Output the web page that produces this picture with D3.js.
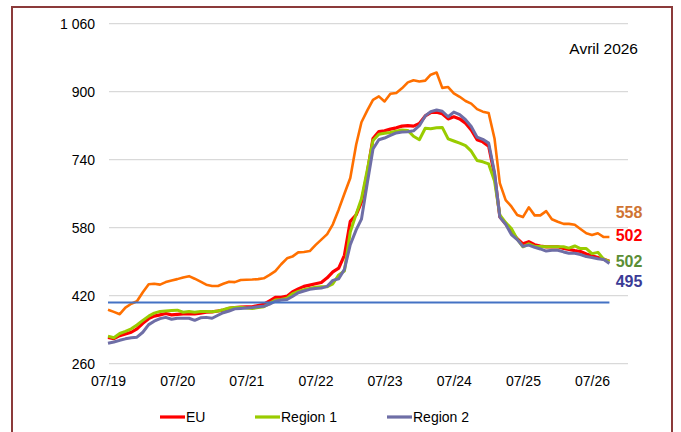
<!DOCTYPE html>
<html><head><meta charset="utf-8">
<script src="https://cdn.jsdelivr.net/npm/d3@7"></script>
<style>
body{margin:0;background:#fff;}
svg{display:block;font-family:"Liberation Sans",Arial,sans-serif;}
</style>
</head><body>
<svg id="chart" width="681" height="432"></svg>
<script>
// ---- data ----
const months = d3.timeMonth.range(new Date(2019, 6, 1), new Date(2026, 10, 1)); // monthly categories
const legendNames = ["EU", "Region 1", "Region 2"];
const euValues = [322,319,326,330,334,342,355,366,372,375,378,375,376,377,377,377,379,381,382,384,386,390,392,393,393.5,394,397,400,408,416,416,419,429,436,442,445,448,451,462,476,485,515,595,610,640,710,790,806,808,812,815,819,820,819,825,843,851,852,848,836,841,836,826,810,787,782,772,705,606,589,570,554,542,547,540,537,535,535,535,531,529,526,524,518,514,510,506,501];
const region1Values = [325,321,331,336,342,351,362,372,379,383,384,385,386,381,383,381,383,383,382,384,387,391,392,393,391,390,392,394,402,410,411,414,424,430,434,437,440,441,441,448,469,478,570,612,648,716,785,800,802,804,807,810,809,795,787,814,813,815,816,789,784,779,773,760,738,735,730,690,610,592,578,553,535,542,536,536,535,535,535,535,532,537,531,531,519,522,506,500];
const region2Values = [308,311,315,318.5,321,322.5,334,352,360,366,369,364.5,367,367,367,362,368,369,367,374,380,384,389,390,391,392,394,395,400,407,410,411,418,427,431,435,437,438,442,456,460,482,540,575,600,685,765,787,791,797,803,805,806,808,820,843,853,857,854,841,852,846,834,818,793,788,779,710,605,588,564,552,536,539,534,530,525,527,527,523,520,520,517,512,510,507,505,496];
const otherValues = [387,382,376.5,392,401,407,428,447,448,446,452,456,459,463,466,460,453,446,443,443,448,453,452,457,457.5,458,459,461,469,478,494,508,512,522,523,525,539,552,565,588,623,660,697,775,828,856,881,889,877,895,897,908,922,927,924,926,940,945,909,911,896,888,878,872,859,853,850,790,685,645,630,610,605,628,609,609,619,600,594,589,589,587,577,567,563,567,558,558];
const thresholdValue = 404;
const yTickValues = [260, 420, 580, 740, 900, 1060];
const xTickDates = d3.timeYear.range(new Date(2019, 0, 1), new Date(2027, 0, 1)).map(d => new Date(d.getFullYear(), 6, 1));
const endLabels = ["558", "502", "502", "495"];
const periodLabel = "Avril 2026";

// ---- layout ----
const svg = d3.select("#chart");
const plotLeft = 109, plotRight = 628;
const x = d3.scaleTime().domain([new Date(2019, 6, 1), new Date(2026, 6, 1)]).range([108, 592]);
const y = d3.scaleLinear().domain([260, 1060]).range([363.7, 23.7]);

// border
svg.append("rect").attr("x", 12).attr("y", 7).attr("width", 660).attr("height", 440)
  .attr("fill", "none").attr("stroke", "#8B3A3A").attr("stroke-width", 2);

// gridlines
svg.append("g").selectAll("line").data(yTickValues).join("line")
  .attr("x1", plotLeft).attr("x2", plotRight)
  .attr("y1", d => y(d)).attr("y2", d => y(d))
  .attr("stroke", "#D9D9D9").attr("stroke-width", 1.3);

// y axis labels
const fmt = v => { const s = String(v); return s.length > 3 ? s.slice(0, s.length - 3) + " " + s.slice(-3) : s; };
const yAxis = d3.axisLeft(y).tickValues(yTickValues).tickFormat(fmt).tickSize(0).tickPadding(0);
const gy = svg.append("g").attr("transform", "translate(95,0)").call(yAxis);
gy.select(".domain").remove();
gy.selectAll("text").attr("font-size", 14).attr("fill", "#000").attr("font-family", "Liberation Sans, Arial, sans-serif");

// x axis labels
const xAxis = d3.axisBottom(x).tickValues(xTickDates).tickFormat(d3.timeFormat("%m/%y")).tickSize(0).tickPadding(0);
const gx = svg.append("g").attr("transform", "translate(0,376)").call(xAxis);
gx.select(".domain").remove();
gx.selectAll("text").attr("font-size", 14).attr("fill", "#000").attr("font-family", "Liberation Sans, Arial, sans-serif");

// lines
const line = d3.line().x((d, i) => x(months[i])).y(d => y(d));
const series = [
  {values: otherValues, color: "#FF7000", width: 2.6},
  {values: euValues, color: "#FF0000", width: 3.2},
  {values: region1Values, color: "#99CC00", width: 3},
  {values: region2Values, color: "#6E6EA6", width: 3}
];
svg.append("g").selectAll("path").data(series).join("path")
  .attr("d", d => line(d.values))
  .attr("fill", "none").attr("stroke", d => d.color).attr("stroke-width", d => d.width)
  .attr("stroke-linejoin", "round");

// threshold line
svg.append("line")
  .attr("x1", x(months[0])).attr("x2", x(months[months.length - 1]))
  .attr("y1", y(thresholdValue)).attr("y2", y(thresholdValue))
  .attr("stroke", "#4472C4").attr("stroke-width", 2);

// end labels
const endLabelStyle = [
  {color: "#CF7433", y: 217.5},
  {color: "#FF0000", y: 241},
  {color: "#5B8E35", y: 266.5},
  {color: "#3B3B96", y: 287}
];
svg.append("g").selectAll("text").data(endLabels).join("text")
  .attr("x", 629).attr("y", (d, i) => endLabelStyle[i].y)
  .attr("text-anchor", "middle").attr("font-size", 16).attr("font-weight", "bold")
  .attr("fill", (d, i) => endLabelStyle[i].color).text(d => d);

// period label
svg.append("text").attr("x", 638).attr("y", 54).attr("text-anchor", "end")
  .attr("font-size", 15.5).attr("fill", "#000").text(periodLabel);

// legend
const legendColors = ["#FF0000", "#99CC00", "#6E6EA6"];
const legendX = [160, 255, 387];
const lg = svg.append("g").selectAll("g").data(legendNames).join("g")
  .attr("transform", (d, i) => `translate(${legendX[i]},417)`);
lg.append("line").attr("x1", 0).attr("x2", 25).attr("y1", 0).attr("y2", 0)
  .attr("stroke", (d, i) => legendColors[i]).attr("stroke-width", 3.2);
lg.append("text").attr("x", 26).attr("y", 5).attr("font-size", 14).attr("fill", "#000").text(d => d);
</script>
</body></html>
